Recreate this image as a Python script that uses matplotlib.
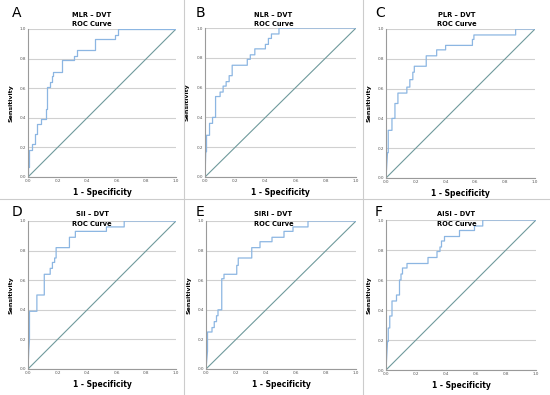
import numpy as np
import matplotlib
matplotlib.use("Agg")
import matplotlib.pyplot as plt

# ROC vertices (1 - specificity, sensitivity)
mlr_fpr = [0, 0, 0.01, 0.01, 0.03, 0.03, 0.05, 0.05, 0.06, 0.06, 0.09, 0.09, 0.12, 0.12, 0.13, 0.13, 0.15, 0.15,
           0.16, 0.16, 0.17, 0.17, 0.23, 0.23, 0.31, 0.31, 0.33, 0.33, 0.45, 0.45, 0.59, 0.59, 0.61, 0.61, 1.0]
mlr_tpr = [0, 0.07, 0.07, 0.18, 0.18, 0.22, 0.22, 0.29, 0.29, 0.36, 0.36, 0.39, 0.39, 0.46, 0.46, 0.61, 0.61, 0.64,
           0.64, 0.68, 0.68, 0.71, 0.71, 0.79, 0.79, 0.82, 0.82, 0.86, 0.86, 0.93, 0.93, 0.96, 0.96, 1.0, 1.0]

nlr_fpr = [0, 0.005, 0.01, 0.01, 0.03, 0.03, 0.05, 0.05, 0.07, 0.07, 0.10, 0.10, 0.12, 0.12, 0.14, 0.14, 0.16, 0.16,
           0.18, 0.18, 0.28, 0.28, 0.30, 0.30, 0.33, 0.33, 0.40, 0.40, 0.42, 0.42, 0.44, 0.44, 0.49, 0.49, 1.0]
nlr_tpr = [0, 0.17, 0.17, 0.28, 0.28, 0.36, 0.36, 0.40, 0.40, 0.54, 0.54, 0.57, 0.57, 0.61, 0.61, 0.64, 0.64, 0.68,
           0.68, 0.75, 0.75, 0.79, 0.79, 0.82, 0.82, 0.86, 0.86, 0.89, 0.89, 0.93, 0.93, 0.96, 0.96, 1.0, 1.0]

plr_fpr = [0, 0.01, 0.015, 0.015, 0.04, 0.04, 0.06, 0.06, 0.08, 0.08, 0.14, 0.14, 0.16, 0.16, 0.18, 0.18, 0.19, 0.19,
           0.27, 0.27, 0.34, 0.34, 0.40, 0.40, 0.58, 0.58, 0.59, 0.59, 0.87, 0.87, 1.0]
plr_tpr = [0, 0.17, 0.17, 0.32, 0.32, 0.40, 0.40, 0.50, 0.50, 0.57, 0.57, 0.61, 0.61, 0.66, 0.66, 0.71, 0.71, 0.75,
           0.75, 0.82, 0.82, 0.86, 0.86, 0.89, 0.89, 0.93, 0.93, 0.96, 0.96, 1.0, 1.0]

sii_fpr = [0, 0.005, 0.01, 0.01, 0.06, 0.06, 0.11, 0.11, 0.15, 0.15, 0.165, 0.165, 0.18, 0.18, 0.19, 0.19,
           0.28, 0.28, 0.32, 0.32, 0.53, 0.53, 0.65, 0.65, 1.0]
sii_tpr = [0, 0.12, 0.2, 0.39, 0.39, 0.50, 0.50, 0.64, 0.64, 0.68, 0.68, 0.72, 0.72, 0.75, 0.75, 0.82,
           0.82, 0.89, 0.89, 0.93, 0.93, 0.96, 0.96, 1.0, 1.0]

siri_fpr = [0, 0.01, 0.01, 0.04, 0.04, 0.055, 0.055, 0.07, 0.07, 0.08, 0.08, 0.105, 0.105, 0.12, 0.12, 0.205, 0.205,
            0.215, 0.215, 0.305, 0.305, 0.36, 0.36, 0.44, 0.44, 0.52, 0.52, 0.58, 0.58, 0.68, 0.68, 1.0]
siri_tpr = [0, 0.12, 0.25, 0.25, 0.28, 0.28, 0.32, 0.32, 0.36, 0.36, 0.40, 0.40, 0.61, 0.61, 0.64, 0.64, 0.70,
            0.70, 0.75, 0.75, 0.82, 0.82, 0.86, 0.86, 0.89, 0.89, 0.93, 0.93, 0.96, 0.96, 1.0, 1.0]

aisi_fpr = [0, 0.01, 0.015, 0.015, 0.025, 0.025, 0.04, 0.04, 0.07, 0.07, 0.09, 0.09, 0.10, 0.10, 0.11, 0.11,
            0.14, 0.14, 0.28, 0.28, 0.34, 0.34, 0.36, 0.36, 0.37, 0.37, 0.39, 0.39, 0.49, 0.49, 0.59, 0.59,
            0.645, 0.645, 1.0]
aisi_tpr = [0, 0.19, 0.19, 0.28, 0.28, 0.36, 0.36, 0.46, 0.46, 0.50, 0.50, 0.60, 0.60, 0.64, 0.64, 0.68,
            0.68, 0.71, 0.71, 0.75, 0.75, 0.79, 0.79, 0.82, 0.82, 0.86, 0.86, 0.89, 0.89, 0.93, 0.93, 0.96,
            0.96, 1.0, 1.0]

letters = ["A", "B", "C", "D", "E", "F"]
titles = ["MLR \u2013 DVT", "NLR \u2013 DVT", "PLR \u2013 DVT", "SII \u2013 DVT", "SIRI \u2013 DVT", "AISI \u2013 DVT"]
curves = [(mlr_fpr, mlr_tpr), (nlr_fpr, nlr_tpr), (plr_fpr, plr_tpr),
          (sii_fpr, sii_tpr), (siri_fpr, siri_tpr), (aisi_fpr, aisi_tpr)]
ticks = [0.0, 0.2, 0.4, 0.6, 0.8, 1.0]

W, H = 550, 395
fig = plt.figure(figsize=(5.5, 3.95), dpi=100)
fig.patch.set_facecolor("white")

# axes boxes in pixels: left, top, right, bottom
boxes = [(28, 29, 176, 177), (205, 28, 356, 177), (386, 29, 535, 178),
         (28, 221, 176, 369), (206, 221, 356, 369), (386, 220, 536, 370)]
panel_x = [0, 184, 363]
panel_y = [0, 199]

for i in range(6):
    l, t, r, b = boxes[i]
    ax = fig.add_axes([l / W, 1 - b / H, (r - l) / W, (b - t) / H])
    fpr, tpr = curves[i]
    ax.plot([0, 1], [0, 1], color="#6f9a9c", lw=0.8)
    ax.plot(fpr, tpr, color="#8cb6e2", lw=0.9)
    ax.set_xlim(0, 1)
    ax.set_ylim(0, 1)
    ax.set_xticks(ticks)
    ax.set_yticks(ticks)
    ax.set_xticklabels(["%.1f" % v for v in ticks])
    ax.set_yticklabels(["%.1f" % v for v in ticks])
    ax.tick_params(length=0, labelsize=3, colors="#555555", pad=1.5)
    ax.grid(axis="y", color="#d0d0d0", lw=0.8)
    ax.set_axisbelow(True)
    for s in ["top", "right"]:
        ax.spines[s].set_visible(False)
    for s in ["left", "bottom"]:
        ax.spines[s].set_color("#9a9a9a")
        ax.spines[s].set_linewidth(0.8)
    ax.set_xlabel("1 - Specificity", fontsize=5.5, fontweight="bold")
    ax.xaxis.set_label_coords(0.5, -0.075)
    ax.set_ylabel("Sensitivity", fontsize=4.5, fontweight="bold")
    ax.yaxis.set_label_coords(-0.1, 0.5)

    col, row = i % 3, i // 3
    px = panel_x[col]
    py = panel_y[row]
    cx = (px + (panel_x[col + 1] if col < 2 else W)) / 2
    fig.text(cx / W, 1 - (py + 15) / H, titles[i], ha="center", va="center", fontsize=4.8, fontweight="bold")
    fig.text(cx / W, 1 - (py + 24.5) / H, "ROC Curve", ha="center", va="center", fontsize=4.8, fontweight="bold")
    fig.text((px + 12) / W, 1 - (py + 13) / H, letters[i], ha="left", va="center", fontsize=10)

# panel separators
for x in panel_x[1:]:
    fig.add_artist(plt.Line2D([x / W, x / W], [0, 1], color="#cccccc", lw=0.8))
fig.add_artist(plt.Line2D([0, 1], [1 - panel_y[1] / H, 1 - panel_y[1] / H], color="#cccccc", lw=0.8))

fig.savefig("out.png", dpi=100)
